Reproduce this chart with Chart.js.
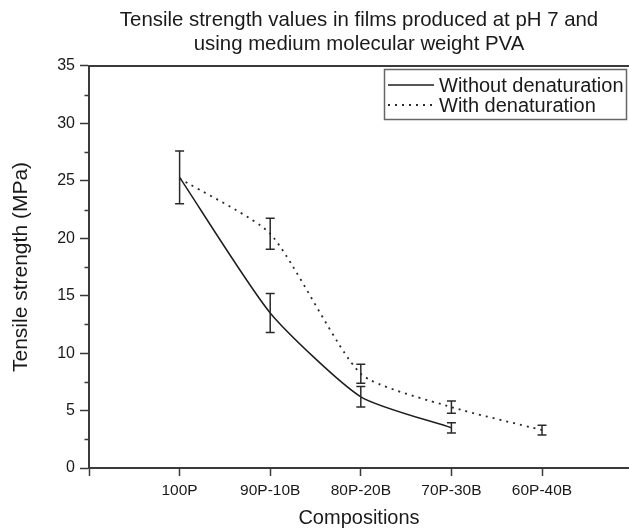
<!DOCTYPE html>
<html><head><meta charset="utf-8">
<script src="https://cdn.jsdelivr.net/npm/chart.js@4.4.1/dist/chart.umd.min.js"></script>
<style>html,body{margin:0;padding:0;background:#fff}canvas{display:block}</style>
</head><body>
<canvas id="c" width="629" height="530"></canvas>
<script>
const categories = ['100P', '90P-10B', '80P-20B', '70P-30B', '60P-40B'];
const withoutDenaturation = [25.3, 13.5, 6.2, 3.5];
const withoutDenaturationErr = [2.3, 1.7, 0.9, 0.45];
const withDenaturation = [25.2, 20.4, 8.2, 5.3, 3.3];
const withDenaturationErr = [null, 1.35, 0.83, 0.53, 0.43];
const yTickValues = [0, 5, 10, 15, 20, 25, 30, 35];
const yMinorTickValues = [2.5, 7.5, 12.5, 17.5, 22.5, 27.5, 32.5];
const xTickValues = [-1, 0, 1, 2, 3, 4];
const seriesNames = ['Without denaturation', 'With denaturation'];
const titleLines = ['Tensile strength values in films produced at pH 7 and', 'using medium molecular weight PVA'];
const xAxisTitle = 'Compositions';
const yAxisTitle = 'Tensile strength (MPa)';

const FONT = "'Liberation Sans', Arial, Helvetica, sans-serif";
const AXIS = '#3a3a3a';
const TXT = '#1a1a1a';

function toPoints(arr) { return arr.map((v, i) => ({ x: i, y: v })); }

const errorBars = {
  id: 'errorBars',
  afterDatasetsDraw(chart) {
    const { ctx, scales: { x, y } } = chart;
    ctx.save();
    ctx.strokeStyle = '#2a2a2a';
    ctx.lineWidth = 1.5;
    chart.data.datasets.forEach(ds => {
      (ds.errors || []).forEach((e, i) => {
        if (e == null) return;
        const p = ds.data[i];
        const px = x.getPixelForValue(p.x);
        const top = y.getPixelForValue(p.y + e);
        const bot = y.getPixelForValue(p.y - e);
        ctx.beginPath();
        ctx.moveTo(px, top); ctx.lineTo(px, bot);
        ctx.moveTo(px - 4.5, top); ctx.lineTo(px + 4.5, top);
        ctx.moveTo(px - 4.5, bot); ctx.lineTo(px + 4.5, bot);
        ctx.stroke();
      });
    });
    ctx.restore();
  }
};

const frame = {
  id: 'frame',
  afterDraw(chart) {
    const { ctx, chartArea: a, scales: { y } } = chart;
    ctx.save();
    ctx.strokeStyle = AXIS;
    ctx.lineWidth = 2;
    ctx.beginPath();
    ctx.moveTo(a.left, a.top); ctx.lineTo(a.right, a.top);
    ctx.stroke();
    ctx.lineWidth = 1.5;
    ctx.beginPath();
    yMinorTickValues.forEach(v => {
      const py = Math.round(y.getPixelForValue(v)) + 0.5;
      ctx.moveTo(a.left - 4.5, py); ctx.lineTo(a.left, py);
    });
    ctx.stroke();
    ctx.restore();
  }
};

const boxLegend = {
  id: 'boxLegend',
  afterDraw(chart) {
    const { ctx } = chart;
    const bx = 384.5, by = 69.5, bw = 242, bh = 50;
    ctx.save();
    ctx.fillStyle = '#fff';
    ctx.fillRect(bx, by, bw, bh);
    ctx.strokeStyle = '#666';
    ctx.lineWidth = 1.5;
    ctx.strokeRect(bx, by, bw, bh);
    ctx.font = '20px ' + FONT;
    ctx.textBaseline = 'middle';
    ctx.fillStyle = TXT;
    chart.data.datasets.forEach((ds, i) => {
      const ly = 85 + i * 20;
      ctx.strokeStyle = ds.borderColor;
      ctx.lineWidth = ds.borderWidth;
      ctx.setLineDash(ds.borderDash || []);
      ctx.beginPath();
      ctx.moveTo(388, ly); ctx.lineTo(434, ly);
      ctx.stroke();
      ctx.setLineDash([]);
      ctx.fillText(ds.label, 439, ly + 1);
    });
    ctx.restore();
  }
};

new Chart(document.getElementById('c'), {
  type: 'line',
  data: {
    datasets: [
      {
        label: seriesNames[0],
        data: toPoints(withoutDenaturation),
        errors: withoutDenaturationErr,
        borderColor: '#1e1e1e',
        borderWidth: 1.5,
        pointRadius: 0,
        tension: 0.2,
        fill: false
      },
      {
        label: seriesNames[1],
        data: toPoints(withDenaturation),
        errors: withDenaturationErr,
        borderColor: '#2a2a2a',
        borderWidth: 1.8,
        borderDash: [2, 5],
        pointRadius: 0,
        tension: 0.2,
        fill: false
      }
    ]
  },
  options: {
    responsive: false,
    animation: false,
    devicePixelRatio: 1,
    layout: { padding: { top: 0, right: 0, bottom: 0, left: 0 } },
    plugins: {
      legend: { display: false },
      tooltip: { enabled: false },
      title: {
        display: true,
        text: titleLines,
        fullSize: false,
        color: TXT,
        font: { family: FONT, size: 20.4, weight: 'normal', lineHeight: 1.2 },
        padding: { top: 8, bottom: 9 }
      }
    },
    scales: {
      x: {
        type: 'linear',
        min: -1,
        max: 4.96,
        afterBuildTicks: s => { s.ticks = xTickValues.map(v => ({ value: v })); },
        afterFit: s => { s.height = 62; },
        ticks: {
          callback: v => categories[v] || '',
          color: TXT,
          font: { family: FONT, size: 15.5 },
          padding: 5,
          maxRotation: 0,
          autoSkip: false
        },
        grid: { drawOnChartArea: false, drawTicks: true, tickLength: 8, tickColor: AXIS, tickWidth: 1.5 },
        border: { color: AXIS, width: 2 },
        title: {
          display: true,
          text: xAxisTitle,
          color: TXT,
          font: { family: FONT, size: 20, weight: 'normal', lineHeight: 1.2 },
          padding: { top: 0, bottom: 0 }
        }
      },
      y: {
        min: 0,
        max: 35,
        afterBuildTicks: s => { s.ticks = yTickValues.map(v => ({ value: v })); },
        afterFit: s => { s.width = 89; },
        ticks: {
          color: TXT,
          font: { family: FONT, size: 16 },
          padding: 5
        },
        grid: { drawOnChartArea: false, drawTicks: true, tickLength: 9, tickColor: AXIS, tickWidth: 1.5 },
        border: { color: AXIS, width: 2 },
        title: {
          display: true,
          text: yAxisTitle,
          color: TXT,
          font: { family: FONT, size: 21, weight: 'normal', lineHeight: 1.2 },
          padding: { top: 9, bottom: 0 }
        }
      }
    }
  },
  plugins: [errorBars, frame, boxLegend]
});
</script>
</body></html>
